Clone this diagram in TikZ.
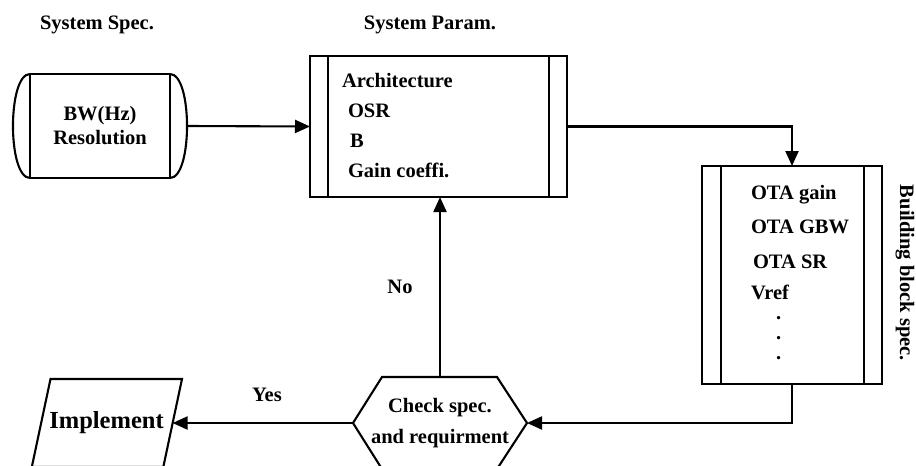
\documentclass[tikz,border=0pt]{standalone}
\usepackage{fontspec}
\setmainfont{Liberation Serif}
\usetikzlibrary{arrows.meta,calc,positioning}

\begin{document}
\begin{tikzpicture}
[x=1pt,y=-1pt,line width=2.1pt,
 every node/.style={font=\bfseries\fontsize{20.5}{24}\selectfont,inner sep=0pt,outer sep=0pt},
 flow/.style={-{Triangle[length=15pt,width=13pt]}}]
\useasboundingbox (0,0) rectangle (916,466);
%% system spec
\node (specT) at (97,25) {System Spec.};
\node[minimum width=174,minimum height=104,align=center] (spec) at (100,126) {BW(Hz)\\Resolution};
\draw ($(spec.north west)+(17,0)$) coordinate (specA) -- ($(spec.north east)+(-17,0)$) coordinate (specB)
  -- ($(spec.south east)+(-17,0)$) coordinate (specC) -- ($(spec.south west)+(17,0)$) coordinate (specD) -- cycle;
\draw (specA) .. controls +(-22.7,0) and +(-22.7,0) .. (specD);
\draw (specB) .. controls +(22.7,0) and +(22.7,0) .. (specC);
%% system parameters
\node (parT) at (430,25) {System Param.};
\node[draw,minimum width=257,minimum height=141] (par) at (438.5,126.5) {};
\draw ($(par.north west)+(18,0)$) -- ($(par.south west)+(18,0)$);
\draw ($(par.north east)+(-18,0)$) -- ($(par.south east)+(-18,0)$);
\node[anchor=west,align=left,font=\bfseries\fontsize{20.5}{30}\selectfont] (parL) at (342,126)
{Architecture\\\hspace*{6pt}OSR\\\hspace*{8pt}B\\\hspace*{6pt}Gain coeffi.};
%% building block spec
\node[draw,minimum width=180,minimum height=218] (ota) at (792,275) {};
\draw ($(ota.north west)+(19,0)$) -- ($(ota.south west)+(19,0)$);
\draw ($(ota.north east)+(-18,0)$) -- ($(ota.south east)+(-18,0)$);
\node[anchor=west,align=left,font=\bfseries\fontsize{20.5}{20}\selectfont] (otaL) at (751,273)
{OTA gain\\[14pt]OTA GBW\\[15pt]\hspace*{2pt}OTA SR\\[11pt]Vref\\\hspace*{25pt}.\\\hspace*{25pt}.\\\hspace*{25pt}.};
\node[rotate=-90] (bbT) at (905,273) {Building block spec.};
%% check
\node[minimum width=174,minimum height=92,align=center,font=\bfseries\fontsize{20.5}{31}\selectfont] (check) at (440,423)
{Check spec.\\and requirment};
\draw (check.west) -- ($(check.north west)+(29,0)$) -- ($(check.north east)+(-30,0)$) -- (check.east)
  -- ($(check.south east)+(-30,0)$) -- ($(check.south west)+(29,0)$) -- cycle;
%% implement
\node[font=\bfseries\fontsize{24.5}{28}\selectfont] (impl) at (106.5,423) {Implement};
\draw ($(impl)+(-56,-44)$) -- ($(impl)+(75.5,-44)$) -- ($(impl)+(56.8,44)$) -- ($(impl)+(-74.7,44)$) -- cycle;
\coordinate (implE) at ($(impl)+(66.1,0)$);
%% edges
\draw[flow] (spec.east) -- (par.west);
\draw[flow] (par.east) -| (ota.north);
\draw[flow] (ota.south) |- (check.east);
\draw[flow] (check.north) -- (check.north |- par.south);
\draw[flow] (check.west) -- (implE);
\node (yes) at (267,395) {Yes};
\node (no) at (400,287) {No};
\end{tikzpicture}
\end{document}
